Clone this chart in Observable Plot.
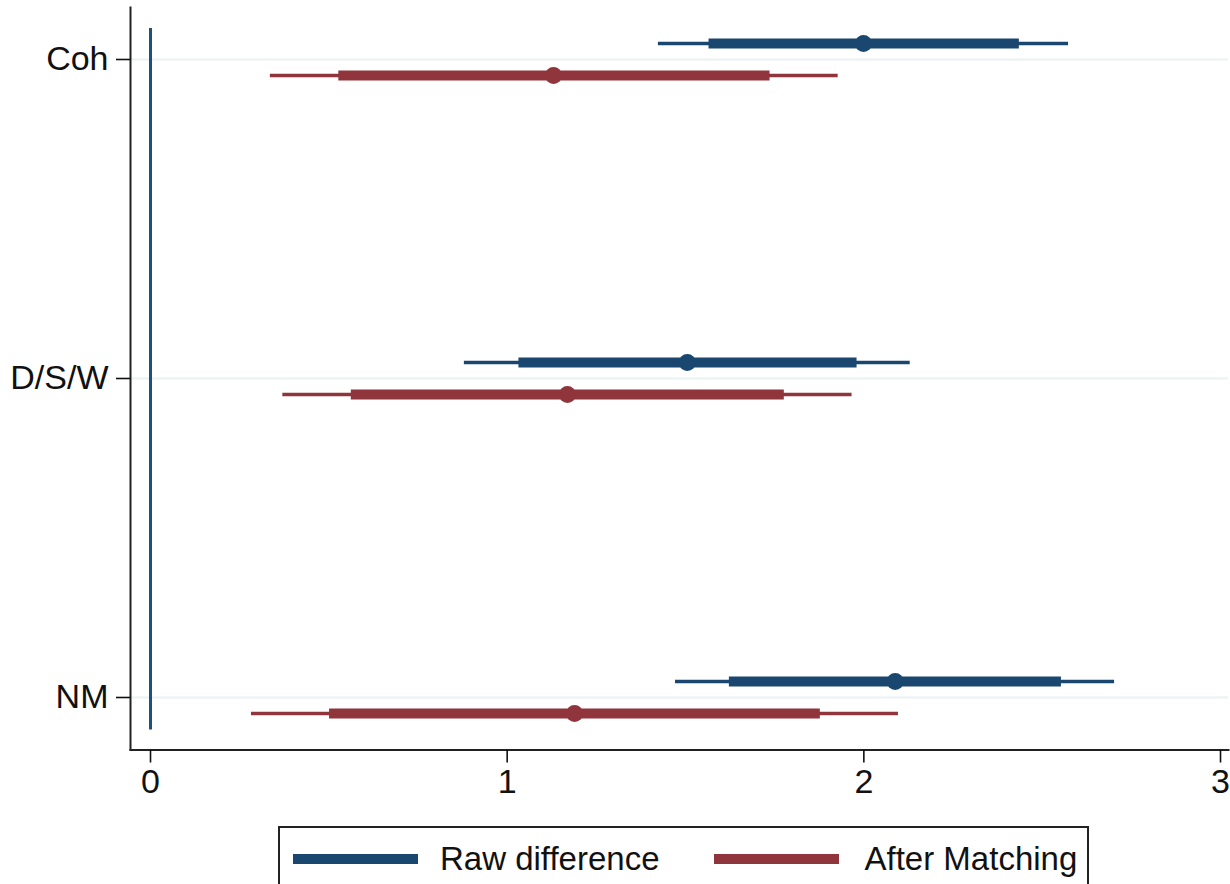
<!DOCTYPE html>
<html>
<head>
<meta charset="utf-8">
<script src="https://cdn.jsdelivr.net/npm/d3@7"></script>
<script src="https://cdn.jsdelivr.net/npm/@observablehq/plot@0.6"></script>
<style>
  html, body { margin: 0; padding: 0; background: #fff; overflow: hidden; }
  body { width: 1230px; height: 884px; position: relative; font-family: "Liberation Sans", Arial, Helvetica, sans-serif; }
  #chart svg { display: block; }
  #legend {
    position: absolute; left: 278px; top: 826px; width: 807px; height: 80px;
    border: 2px solid #222; box-sizing: content-box;
    display: flex; align-items: flex-start; padding-top: 0;
  }
  .item { display: flex; align-items: center; height: 62px; }
  .sw { width: 125px; height: 10px; }
  .lab { font-size: 33px; color: #111; white-space: nowrap; }
</style>
</head>
<body>
<div id="chart"></div>
<div id="legend"></div>
<script>
// ---- data ----
const categories = ["Coh", "D/S/W", "NM"];
const seriesNames = ["Raw difference", "After Matching"];
const seriesColors = ["#1a476f", "#90353b"];

const rawEst  = [1.999, 1.505, 2.088];
const rawLo90 = [1.566, 1.033, 1.623];
const rawHi90 = [2.436, 1.981, 2.554];
const rawLo95 = [1.424, 0.880, 1.472];
const rawHi95 = [2.574, 2.130, 2.703];

const matEst  = [1.130, 1.169, 1.189];
const matLo90 = [0.528, 0.563, 0.502];
const matHi90 = [1.737, 1.777, 1.878];
const matLo95 = [0.336, 0.371, 0.283];
const matHi95 = [1.928, 1.967, 2.097];

const xTicks = [0, 1, 2, 3];
const refLine = [0];
const xDomain = [-0.0561, 3.0224];

// ---- table ----
const rows = [];
categories.forEach((c, i) => {
  rows.push({cat: c, series: seriesNames[0], est: rawEst[i], lo90: rawLo90[i], hi90: rawHi90[i], lo95: rawLo95[i], hi95: rawHi95[i]});
  rows.push({cat: c, series: seriesNames[1], est: matEst[i], lo90: matLo90[i], hi90: matHi90[i], lo95: matLo95[i], hi95: matHi95[i]});
});
const offsets = [-16, 16];

const seriesMarks = seriesNames.flatMap((s, k) => {
  const d = rows.filter(r => r.series === s);
  const col = seriesColors[k];
  return [
    Plot.ruleY(d, {y: "cat", x1: "lo95", x2: "hi95", dy: offsets[k], stroke: col, strokeWidth: 3.3}),
    Plot.ruleY(d, {y: "cat", x1: "lo90", x2: "hi90", dy: offsets[k], stroke: col, strokeWidth: 10}),
    Plot.dot(d, {y: "cat", x: "est", dy: offsets[k], fill: col, r: 8.5, stroke: "none"})
  ];
});

const chart = Plot.plot({
  width: 1230,
  height: 806,
  marginLeft: 130,
  marginRight: 2,
  marginTop: 7,
  marginBottom: 56.5,
  style: {fontFamily: '"Liberation Sans", Arial, Helvetica, sans-serif', color: "#111", background: "#fff"},
  x: {domain: xDomain},
  y: {domain: categories, type: "point", padding: 0.1614},
  marks: [
    Plot.ruleY(categories, {y: d => d, stroke: "#eaf2f3", strokeWidth: 2.2}),
    Plot.ruleX(refLine, {x: d => d, stroke: "#1f4f7e", strokeWidth: 3, insetTop: 21, insetBottom: 20}),
    ...seriesMarks,
    Plot.frame({anchor: "left", stroke: "#222", strokeWidth: 2}),
    Plot.frame({anchor: "bottom", stroke: "#222", strokeWidth: 2}),
    Plot.axisX({ticks: xTicks, tickFormat: d => String(d), tickSize: 13, tickPadding: 6, fontSize: 34, strokeWidth: 1.6, label: null}),
    Plot.axisY({tickSize: 14, tickPadding: 8, fontSize: 34, strokeWidth: 1.6, label: null})
  ]
});
document.getElementById("chart").appendChild(chart);

// ---- legend ----
const legend = document.getElementById("legend");
seriesNames.forEach((s, k) => {
  const item = document.createElement("div");
  item.className = "item";
  item.style.marginLeft = k === 0 ? "13px" : "54px";
  const sw = document.createElement("div");
  sw.className = "sw";
  sw.style.background = seriesColors[k];
  const lab = document.createElement("div");
  lab.className = "lab";
  lab.style.marginLeft = k === 0 ? "22px" : "26px";
  lab.textContent = s;
  item.appendChild(sw);
  item.appendChild(lab);
  legend.appendChild(item);
});
</script>
</body>
</html>
